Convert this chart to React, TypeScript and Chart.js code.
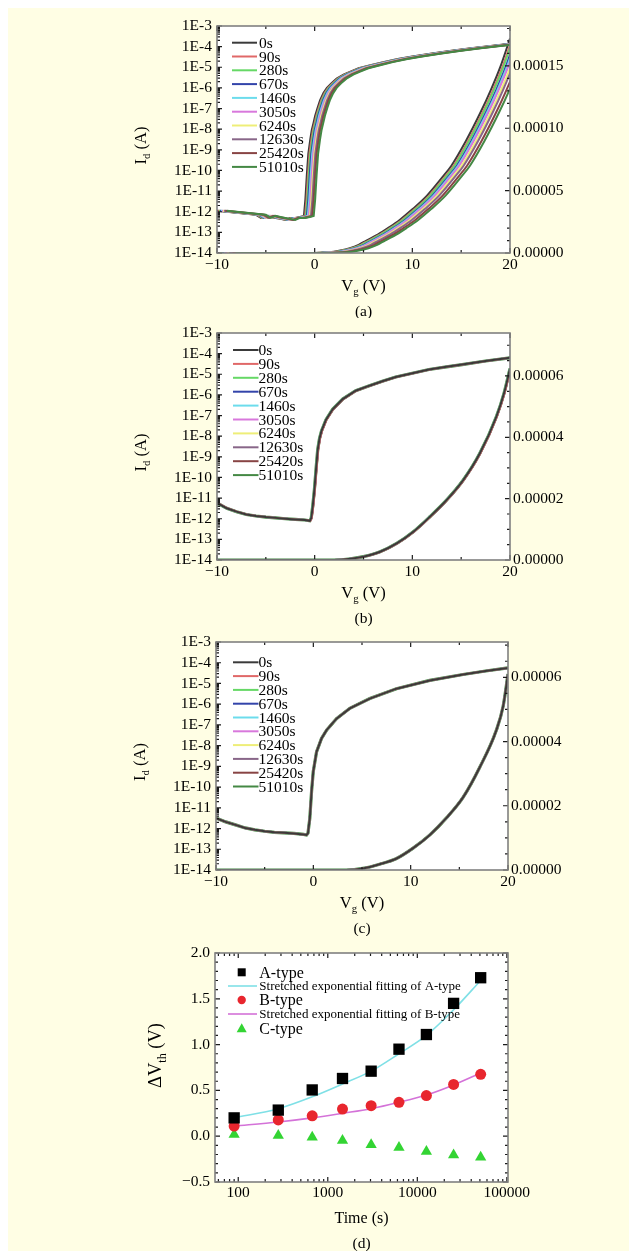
import React, { useEffect, useRef } from "react";
import { Chart, registerables } from "chart.js";

Chart.register(...registerables);

const SERIF = '"Liberation Serif", "Times New Roman", serif';
const BG = "rgb(255,254,228)";

// ---------------- data ----------------
const STRESS_LABELS = ["0s", "90s", "280s", "670s", "1460s", "3050s", "6240s", "12630s", "25420s", "51010s"];
const CURVE_COLORS = ["#3a3a3a", "#e06868", "#66d866", "#3344aa", "#6cdcec", "#d878dc", "#eeee78", "#886688", "#884444", "#448844"];

const LOG_TICKS = [1e-14, 1e-13, 1e-12, 1e-11, 1e-10, 1e-9, 1e-8, 1e-7, 1e-6, 1e-5, 1e-4, 1e-3];
const LOG_TICK_LABELS = ["1E-14", "1E-13", "1E-12", "1E-11", "1E-10", "1E-9", "1E-8", "1E-7", "1E-6", "1E-5", "1E-4", "1E-3"];
const VG_TICKS = [-10, 0, 10, 20];
const VG_MINOR = [-5, 5, 15];

// panel (a) – log branch (0 s curve)
const VG_LOG_A = [-10, -9, -8, -7, -6, -5.5, -5, -4.5, -4, -3.5, -3, -2.5, -2, -1.5, -1.1, -0.95, -0.8, -0.65, -0.45, -0.3, -0.1, 0.05, 0.3, 0.55, 0.9, 1.25, 1.7, 2.25, 3, 3.6, 4.5, 5.7, 7, 8.5, 10, 12, 14, 16, 18, 20];
const ID_LOG_A = [1.12e-12, 1.0e-12, 8.9e-13, 7.9e-13, 7.1e-13, 5.0e-13, 6.3e-13, 5.6e-13, 5.0e-13, 4.5e-13, 4.0e-13, 5.0e-13, 5.0e-13, 5.6e-13, 6.3e-13, 4.0e-12, 6.3e-11, 6.3e-10, 3.2e-9, 8.9e-9, 2.2e-8, 4.5e-8, 1.1e-7, 2.5e-7, 5.6e-7, 1.0e-6, 1.66e-6, 2.8e-6, 4.5e-6, 6.0e-6, 8.9e-6, 1.26e-5, 1.78e-5, 2.5e-5, 3.3e-5, 4.7e-5, 6.3e-5, 8.3e-5, 1.07e-4, 1.38e-4];
const SHIFT_LOG_A = [0, 0.12, 0.2, 0.3, 0.4, 0.5, 0.62, 0.72, 0.85, 1.0];
// panel (a) – linear branch
const VG_LIN_A = [-10, 0, 0.5, 1.5, 2.5, 3.6, 4.5, 5.3, 6.5, 7.5, 8.7, 10, 11.5, 13, 14, 15.5, 17, 18, 19, 20];
const ID_LIN_A = [0, 0, 2e-7, 6e-7, 1.8e-6, 3.8e-6, 6.5e-6, 1.0e-5, 1.5e-5, 2.0e-5, 2.65e-5, 3.5e-5, 4.6e-5, 6.0e-5, 7.0e-5, 9.0e-5, 1.13e-4, 1.3e-4, 1.49e-4, 1.72e-4];
const SHIFT_LIN_A = [0, 0.22, 0.32, 0.55, 0.68, 0.8, 1.05, 1.25, 1.6, 1.9];

// panel (b)
const VG_LOG_B = [-10, -9, -8, -7, -6, -5, -4, -3, -2, -1, -0.5, -0.35, -0.2, -0.03, 0.14, 0.31, 0.5, 0.7, 1.16, 1.84, 2.87, 4.2, 5.6, 7, 8.3, 10, 11.7, 13.5, 15.1, 17.5, 20];
const ID_LOG_B = [5.9e-12, 3.2e-12, 2.2e-12, 1.6e-12, 1.35e-12, 1.2e-12, 1.1e-12, 1.0e-12, 9.3e-13, 8.7e-13, 7.9e-13, 1.1e-12, 4.0e-12, 2.5e-11, 2.5e-10, 2.2e-9, 7.9e-9, 1.8e-8, 6.3e-8, 2.0e-7, 6.3e-7, 1.6e-6, 2.8e-6, 4.7e-6, 7.4e-6, 1.12e-5, 1.7e-5, 2.3e-5, 2.95e-5, 4.4e-5, 6.3e-5];
const SHIFT_LOG_B = [0, 0.05, 0, 0.02, 0, 0.02, 0, 0.03, 0.04, 0];
const VG_LIN_B = [-10, 2, 3.5, 5, 6.7, 8.4, 10.1, 11.8, 13.5, 15.2, 16.9, 18.6, 19.4, 20];
const ID_LIN_B = [0, 0, 3e-7, 1.1e-6, 2.7e-6, 5.4e-6, 9.2e-6, 1.41e-5, 1.95e-5, 2.6e-5, 3.47e-5, 4.67e-5, 5.45e-5, 6.24e-5];
const SHIFT_LIN_B = [0, 0.05, 0, 0.02, 0, 0.02, 0, 0.03, 0.04, 0];

// panel (c)
const VG_LOG_C = [-10, -9, -8, -7, -6, -5, -4, -3, -2, -1, -0.7, -0.55, -0.36, -0.18, -0.01, 0.33, 0.84, 1.36, 2.38, 3.75, 5.8, 8.54, 11.96, 15.38, 17.7, 20];
const ID_LOG_C = [3.2e-12, 2.1e-12, 1.5e-12, 1.07e-12, 8.7e-13, 7.4e-13, 6.6e-13, 6.2e-13, 5.8e-13, 5.2e-13, 4.9e-13, 6.0e-13, 3.2e-12, 6.3e-11, 5.5e-10, 5.0e-9, 2.2e-8, 5.6e-8, 2.0e-7, 6.3e-7, 1.86e-6, 5.6e-6, 1.4e-5, 2.7e-5, 4.0e-5, 5.6e-5];
const SHIFT_LOG_C = [0, 0, 0, 0, 0, 0, 0, 0, 0, 0];
const VG_LIN_C = [-10, 3.4, 5.1, 6.8, 8.5, 10.25, 12, 13.7, 15.4, 17.1, 18.8, 19.5, 20];
const ID_LIN_C = [0, 0, 5e-7, 1.8e-6, 3.5e-6, 6.8e-6, 1.1e-5, 1.63e-5, 2.27e-5, 3.2e-5, 4.35e-5, 5.1e-5, 6.1e-5];
const SHIFT_LIN_C = [0, 0, 0, 0, 0, 0, 0, 0, 0, 0];

const RIGHT_TICKS_A = [0, 5e-5, 1e-4, 1.5e-4];
const RIGHT_TICKS_BC = [0, 2e-5, 4e-5, 6e-5];

// panel (d)
const STRESS_TIMES = [90, 280, 670, 1460, 3050, 6240, 12630, 25420, 51010];
const DVTH_A = [0.2, 0.285, 0.505, 0.63, 0.71, 0.95, 1.11, 1.45, 1.73];
const FIT_A = [0.2, 0.3, 0.43, 0.57, 0.71, 0.9, 1.1, 1.38, 1.7];
const DVTH_B = [0.11, 0.178, 0.222, 0.296, 0.333, 0.37, 0.444, 0.565, 0.675];
const FIT_B = [0.11, 0.155, 0.2, 0.25, 0.3, 0.37, 0.45, 0.56, 0.69];
const DVTH_C = [0.019, 0.007, -0.011, -0.048, -0.093, -0.122, -0.167, -0.204, -0.23];
const TIME_TICKS = [100, 1000, 10000, 100000];
const DVTH_TICKS = [-0.5, 0, 0.5, 1, 1.5, 2];

// ---------------- helpers ----------------
type Seg = { t: string; sub?: boolean };

function drawRich(ctx: CanvasRenderingContext2D, segs: Seg[], cx: number, cy: number, size: number, rotate: boolean) {
  ctx.save();
  ctx.translate(cx, cy);
  if (rotate) ctx.rotate(-Math.PI / 2);
  const fonts = segs.map((s) => `${s.sub ? size * 0.65 : size}px ${SERIF}`);
  let total = 0;
  const widths = segs.map((s, i) => {
    ctx.font = fonts[i];
    const w = ctx.measureText(s.t).width;
    total += w;
    return w;
  });
  let x = -total / 2;
  ctx.textBaseline = "alphabetic";
  ctx.textAlign = "left";
  ctx.fillStyle = "#000";
  segs.forEach((s, i) => {
    ctx.font = fonts[i];
    ctx.fillText(s.t, x, size * 0.34 + (s.sub ? size * 0.25 : 0));
    x += widths[i];
  });
  ctx.restore();
}

function minorLog(lo: number, hi: number) {
  const out: number[] = [];
  for (let e = lo; e < hi; e++) for (let k = 2; k <= 9; k++) out.push(k * Math.pow(10, e));
  return out;
}
function minorLin(min: number, max: number, step: number) {
  const out: number[] = [];
  const n = Math.round((max - min) / step);
  for (let i = 0; i <= n; i++) out.push(min + i * step);
  return out;
}

const fmtMinus = (v: number, digits?: number) => {
  const s = digits === undefined ? String(Math.abs(v)) : Math.abs(v).toFixed(digits);
  return v < 0 ? "\u2212" + s : s;
};

interface DecorCfg {
  xMinor: number[];
  yMinor: number[];
  y2Minor?: number[];
  mirrorY?: boolean;
  xTitle: Seg[];
  xTitleSize: number;
  xTitleDy: number;
  yTitle: Seg[];
  yTitleSize: number;
  yTitleDx: number;
  yTitleDy: number;
  caption: string;
  captionDy: number;
  legend: (ctx: CanvasRenderingContext2D) => void;
}

function makeDecor(cfg: DecorCfg) {
  return {
    id: "decor",
    beforeDatasetsDraw(chart: any) {
      const { ctx, chartArea: a } = chart;
      ctx.save();
      ctx.fillStyle = "#ffffff";
      ctx.fillRect(a.left, a.top, a.right - a.left, a.bottom - a.top);
      ctx.restore();
    },
    afterDatasetsDraw(chart: any) {
      const { ctx, chartArea: a, scales } = chart;
      const MAJ = 5;
      const MIN = 3;
      ctx.save();
      ctx.strokeStyle = "#1a1a1a";
      ctx.lineWidth = 1.2;
      ctx.beginPath();
      const seg = (x1: number, y1: number, x2: number, y2: number) => {
        ctx.moveTo(x1, y1);
        ctx.lineTo(x2, y2);
      };
      const xs = scales.x;
      const inX = (v: number) => v >= xs.min && v <= xs.max;
      xs.ticks.forEach((t: any) => {
        const p = xs.getPixelForValue(t.value);
        seg(p, a.bottom, p, a.bottom - MAJ);
        seg(p, a.top, p, a.top + MAJ);
      });
      cfg.xMinor.filter(inX).forEach((v) => {
        const p = xs.getPixelForValue(v);
        seg(p, a.bottom, p, a.bottom - MIN);
        seg(p, a.top, p, a.top + MIN);
      });
      const ys = scales.y;
      const inY = (v: number) => v >= ys.min && v <= ys.max;
      ys.ticks.forEach((t: any) => {
        const p = ys.getPixelForValue(t.value);
        seg(a.left, p, a.left + MAJ, p);
        if (cfg.mirrorY) seg(a.right, p, a.right - MAJ, p);
      });
      cfg.yMinor.filter(inY).forEach((v) => {
        const p = ys.getPixelForValue(v);
        seg(a.left, p, a.left + MIN, p);
        if (cfg.mirrorY) seg(a.right, p, a.right - MIN, p);
      });
      const y2 = scales.y2;
      if (y2) {
        y2.ticks.forEach((t: any) => {
          const p = y2.getPixelForValue(t.value);
          seg(a.right, p, a.right - MAJ, p);
        });
        (cfg.y2Minor || []).filter((v) => v >= y2.min && v <= y2.max).forEach((v) => {
          const p = y2.getPixelForValue(v);
          seg(a.right, p, a.right - MIN, p);
        });
      }
      ctx.stroke();
      // frame
      ctx.strokeStyle = "#808080";
      ctx.lineWidth = 1.6;
      ctx.strokeRect(a.left, a.top, a.right - a.left, a.bottom - a.top);
      ctx.restore();

      ctx.save();
      cfg.legend(ctx);
      ctx.restore();

      const cx = (a.left + a.right) / 2;
      const cy = (a.top + a.bottom) / 2;
      drawRich(ctx, cfg.xTitle, cx, a.bottom + cfg.xTitleDy, cfg.xTitleSize, false);
      drawRich(ctx, cfg.yTitle, a.left + cfg.yTitleDx, cy + cfg.yTitleDy, cfg.yTitleSize, true);
      drawRich(ctx, [{ t: cfg.caption }], cx, a.bottom + cfg.captionDy, 15.5, false);
    },
  };
}

const tickFont = { family: SERIF, size: 15.5 };

interface TransferPanel {
  vgLog: number[];
  idLog: number[];
  shiftLog: number[];
  vgLin: number[];
  idLin: number[];
  shiftLin: number[];
  y2Max: number;
  y2Ticks: number[];
  y2MinorStep: number;
  padTop: number;
  xH: number;
  leftW: number;
  rightW: number;
  legend: { x0: number; x1: number; tx: number; y0: number; dy: number };
  caption: string;
  blackOnTop: boolean;
}

function transferConfig(p: TransferPanel): any {
  const datasets: any[] = [];
  STRESS_LABELS.forEach((label, i) => {
    const order = p.blackOnTop ? i : 9 - i;
    const width = p.blackOnTop ? (i === 9 ? 3.2 : 2) : 2;
    datasets.push({
      label,
      yAxisID: "y",
      data: p.vgLog.map((v, k) => ({ x: v + p.shiftLog[i], y: p.idLog[k] })),
      borderColor: CURVE_COLORS[i],
      borderWidth: width,
      pointRadius: 0,
      tension: 0,
      order,
    });
    datasets.push({
      label: label + " lin",
      yAxisID: "y2",
      data: p.vgLin.map((v, k) => ({ x: v + p.shiftLin[i], y: p.idLin[k] })),
      borderColor: CURVE_COLORS[i],
      borderWidth: width,
      pointRadius: 0,
      cubicInterpolationMode: "monotone",
      order,
    });
  });
  const L = p.legend;
  return {
    type: "line",
    data: { datasets },
    options: {
      responsive: false,
      maintainAspectRatio: false,
      animation: false,
      events: [],
      layout: { padding: { top: p.padTop, left: 0, right: 0, bottom: 0 } },
      plugins: { legend: { display: false }, tooltip: { enabled: false } },
      scales: {
        x: {
          type: "linear",
          position: "bottom",
          min: -10,
          max: 20,
          afterBuildTicks: (s: any) => {
            s.ticks = VG_TICKS.map((v) => ({ value: v }));
          },
          afterFit: (s: any) => {
            s.height = p.xH;
          },
          grid: { display: false, drawTicks: false },
          border: { display: false },
          ticks: { font: tickFont, color: "#000", padding: 3, autoSkip: false, maxRotation: 0, callback: (v: number) => fmtMinus(v) },
        },
        y: {
          type: "logarithmic",
          position: "left",
          min: 1e-14,
          max: 1e-3,
          afterBuildTicks: (s: any) => {
            s.ticks = LOG_TICKS.map((v) => ({ value: v }));
          },
          afterFit: (s: any) => {
            s.width = p.leftW;
          },
          grid: { display: false, drawTicks: false },
          border: { display: false },
          ticks: { font: tickFont, color: "#000", padding: 5, autoSkip: false, callback: (v: number) => LOG_TICK_LABELS[LOG_TICKS.indexOf(v)] },
        },
        y2: {
          type: "linear",
          position: "right",
          min: 0,
          max: p.y2Max,
          afterBuildTicks: (s: any) => {
            s.ticks = p.y2Ticks.map((v) => ({ value: v }));
          },
          afterFit: (s: any) => {
            s.width = p.rightW;
          },
          grid: { display: false, drawTicks: false },
          border: { display: false },
          ticks: { font: tickFont, color: "#000", padding: 3, autoSkip: false, callback: (v: number) => v.toFixed(5) },
        },
      },
    },
    plugins: [
      makeDecor({
        xMinor: VG_MINOR,
        yMinor: minorLog(-14, -3),
        y2Minor: minorLin(0, p.y2Max, p.y2MinorStep),
        xTitle: [{ t: "V" }, { t: "g", sub: true }, { t: " (V)" }],
        xTitleSize: 16.5,
        xTitleDy: 32,
        yTitle: [{ t: "I" }, { t: "d", sub: true }, { t: " (A)" }],
        yTitleSize: 16.5,
        yTitleDx: -77,
        yTitleDy: 6,
        caption: p.caption,
        captionDy: 58,
        legend: (ctx) => {
          ctx.font = `15.5px ${SERIF}`;
          ctx.textBaseline = "middle";
          ctx.textAlign = "left";
          STRESS_LABELS.forEach((lab, i) => {
            const y = L.y0 + i * L.dy;
            ctx.strokeStyle = CURVE_COLORS[i];
            ctx.lineWidth = 2;
            ctx.beginPath();
            ctx.moveTo(L.x0, y);
            ctx.lineTo(L.x1, y);
            ctx.stroke();
            ctx.fillStyle = "#000";
            ctx.fillText(lab, L.tx, y + 1);
          });
        },
      }),
    ],
  };
}

function dvthConfig(): any {
  const pts = (vals: number[]) => STRESS_TIMES.map((t, i) => ({ x: t, y: vals[i] }));
  const legendRows = [
    { kind: "rect", color: "#000000", text: "A-type", size: 16 },
    { kind: "line", color: "#7fe0e6", text: "Stretched exponential fitting of A-type", size: 13 },
    { kind: "circle", color: "#e8262e", text: "B-type", size: 16 },
    { kind: "line", color: "#d472d8", text: "Stretched exponential fitting of B-type", size: 13 },
    { kind: "triangle", color: "#33d433", text: "C-type", size: 16 },
  ];
  const rowY = [36.3, 50, 64, 78, 92.3];
  return {
    type: "line",
    data: {
      datasets: [
        { label: "A-type", data: pts(DVTH_A), showLine: false, pointStyle: "rect", pointRadius: 8, backgroundColor: "#000", borderColor: "#000", borderWidth: 0, order: 0 },
        { label: "Fit A", data: pts(FIT_A), borderColor: "#7fe0e6", borderWidth: 1.6, pointRadius: 0, cubicInterpolationMode: "monotone", order: 1 },
        { label: "B-type", data: pts(DVTH_B), showLine: false, pointStyle: "circle", pointRadius: 5.5, backgroundColor: "#e8262e", borderColor: "#e8262e", borderWidth: 0, order: 0 },
        { label: "Fit B", data: pts(FIT_B), borderColor: "#d472d8", borderWidth: 1.6, pointRadius: 0, cubicInterpolationMode: "monotone", order: 1 },
        { label: "C-type", data: pts(DVTH_C), showLine: false, pointStyle: "triangle", pointRadius: 6.5, backgroundColor: "#33d433", borderColor: "#33d433", borderWidth: 0, order: 0 },
      ],
    },
    options: {
      responsive: false,
      maintainAspectRatio: false,
      animation: false,
      events: [],
      layout: { padding: { top: 17, left: 0, right: 121, bottom: 0 } },
      plugins: { legend: { display: false }, tooltip: { enabled: false } },
      scales: {
        x: {
          type: "logarithmic",
          position: "bottom",
          min: 55,
          max: 103000,
          afterBuildTicks: (s: any) => {
            s.ticks = TIME_TICKS.map((v) => ({ value: v }));
          },
          afterFit: (s: any) => {
            s.height = 69;
          },
          grid: { display: false, drawTicks: false },
          border: { display: false },
          ticks: { font: tickFont, color: "#000", padding: 2, autoSkip: false, maxRotation: 0, callback: (v: number) => String(v) },
        },
        y: {
          type: "linear",
          position: "left",
          min: -0.5,
          max: 2,
          afterBuildTicks: (s: any) => {
            s.ticks = DVTH_TICKS.map((v) => ({ value: v }));
          },
          afterFit: (s: any) => {
            s.width = 207;
          },
          grid: { display: false, drawTicks: false },
          border: { display: false },
          ticks: { font: tickFont, color: "#000", padding: 5, autoSkip: false, callback: (v: number) => fmtMinus(v, 1) },
        },
      },
    },
    plugins: [
      makeDecor({
        xMinor: minorLog(1, 5),
        yMinor: minorLin(-0.5, 2, 0.1),
        mirrorY: true,
        xTitle: [{ t: "Time (s)" }],
        xTitleSize: 16,
        xTitleDy: 36,
        yTitle: [{ t: "\u0394V" }, { t: "th", sub: true }, { t: " (V)" }],
        yTitleSize: 18.5,
        yTitleDx: -60,
        yTitleDy: -12,
        caption: "(d)",
        captionDy: 61,
        legend: (ctx) => {
          ctx.textBaseline = "middle";
          ctx.textAlign = "left";
          legendRows.forEach((r, i) => {
            const y = rowY[i];
            const mx = 233.7;
            ctx.fillStyle = r.color;
            ctx.strokeStyle = r.color;
            if (r.kind === "rect") {
              ctx.fillRect(mx - 4, y - 4, 8, 8);
            } else if (r.kind === "circle") {
              ctx.beginPath();
              ctx.arc(mx, y, 4.2, 0, Math.PI * 2);
              ctx.fill();
            } else if (r.kind === "triangle") {
              ctx.beginPath();
              ctx.moveTo(mx, y - 5);
              ctx.lineTo(mx + 5, y + 4);
              ctx.lineTo(mx - 5, y + 4);
              ctx.closePath();
              ctx.fill();
            } else {
              ctx.lineWidth = 1.6;
              ctx.beginPath();
              ctx.moveTo(220, y);
              ctx.lineTo(249, y);
              ctx.stroke();
            }
            ctx.fillStyle = "#000";
            ctx.font = `${r.size}px ${SERIF}`;
            ctx.fillText(r.text, 251.3, y + 1);
          });
        },
      }),
    ],
  };
}

function ChartCanvas({ top, height, make }: { top: number; height: number; make: () => any }) {
  const ref = useRef<HTMLCanvasElement | null>(null);
  useEffect(() => {
    if (!ref.current) return;
    const chart = new Chart(ref.current, make());
    return () => chart.destroy();
  }, []);
  return (
    <canvas
      ref={ref}
      width={621}
      height={height}
      style={{ position: "absolute", left: 0, top, width: 621, height, display: "block" }}
    />
  );
}

const PANEL_A: TransferPanel = {
  vgLog: VG_LOG_A, idLog: ID_LOG_A, shiftLog: SHIFT_LOG_A,
  vgLin: VG_LIN_A, idLin: ID_LIN_A, shiftLin: SHIFT_LIN_A,
  y2Max: 1.82e-4, y2Ticks: RIGHT_TICKS_A, y2MinorStep: 1e-5,
  padTop: 18, xH: 65, leftW: 209, rightW: 119,
  legend: { x0: 224, x1: 249, tx: 251, y0: 34.7, dy: 13.8 },
  caption: "(a)",
  blackOnTop: false,
};
const PANEL_B: TransferPanel = {
  vgLog: VG_LOG_B, idLog: ID_LOG_B, shiftLog: SHIFT_LOG_B,
  vgLin: VG_LIN_B, idLin: ID_LIN_B, shiftLin: SHIFT_LIN_B,
  y2Max: 7.4e-5, y2Ticks: RIGHT_TICKS_BC, y2MinorStep: 5e-6,
  padTop: 15, xH: 66, leftW: 209, rightW: 119,
  legend: { x0: 225, x1: 250.5, tx: 250.5, y0: 32, dy: 13.9 },
  caption: "(b)",
  blackOnTop: true,
};
const PANEL_C: TransferPanel = {
  vgLog: VG_LOG_C, idLog: ID_LOG_C, shiftLog: SHIFT_LOG_C,
  vgLin: VG_LIN_C, idLin: ID_LIN_C, shiftLin: SHIFT_LIN_C,
  y2Max: 7.1e-5, y2Ticks: RIGHT_TICKS_BC, y2MinorStep: 5e-6,
  padTop: 16, xH: 66, leftW: 208, rightW: 121,
  legend: { x0: 225, x1: 250.5, tx: 250.5, y0: 36.3, dy: 13.8 },
  caption: "(c)",
  blackOnTop: true,
};

export default function App() {
  return (
    <div style={{ position: "fixed", left: 8, top: 8, width: 621, height: 1243, background: BG, overflow: "hidden" }}>
      <ChartCanvas top={0} height={310} make={() => transferConfig(PANEL_A)} />
      <ChartCanvas top={310} height={308} make={() => transferConfig(PANEL_B)} />
      <ChartCanvas top={618} height={310} make={() => transferConfig(PANEL_C)} />
      <ChartCanvas top={928} height={315} make={dvthConfig} />
    </div>
  );
}
